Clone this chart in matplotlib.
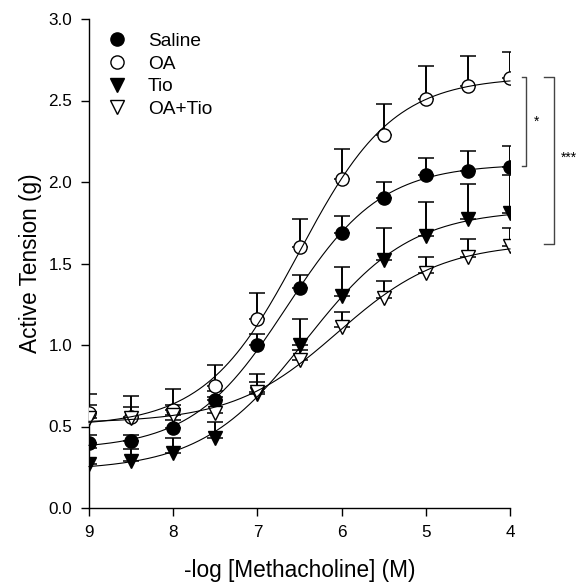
import numpy as np
import matplotlib
matplotlib.use("Agg")
import matplotlib.pyplot as plt

plt.rcParams['font.family'] = ['Liberation Sans', 'DejaVu Sans']

# -log [Methacholine] (M)
conc = [9.0, 8.5, 8.0, 7.5, 7.0, 6.5, 6.0, 5.5, 5.0, 4.5, 4.0]

saline = [0.40, 0.41, 0.49, 0.66, 1.00, 1.35, 1.69, 1.90, 2.04, 2.07, 2.09]
saline_err = [0.05, 0.04, 0.05, 0.06, 0.07, 0.08, 0.10, 0.10, 0.11, 0.12, 0.13]

oa = [0.58, 0.56, 0.60, 0.75, 1.16, 1.60, 2.02, 2.29, 2.51, 2.59, 2.64]
oa_err = [0.12, 0.13, 0.13, 0.13, 0.16, 0.17, 0.18, 0.19, 0.20, 0.18, 0.16]

tio = [0.27, 0.29, 0.34, 0.43, 0.70, 1.00, 1.30, 1.52, 1.67, 1.77, 1.81]
tio_err = [0.10, 0.07, 0.09, 0.10, 0.07, 0.16, 0.18, 0.20, 0.21, 0.22, 0.23]

oatio = [0.55, 0.55, 0.57, 0.58, 0.71, 0.91, 1.11, 1.29, 1.44, 1.54, 1.61]
oatio_err = [0.08, 0.07, 0.06, 0.10, 0.11, 0.06, 0.09, 0.10, 0.10, 0.11, 0.11]

labels = ['Saline', 'OA', 'Tio', 'OA+Tio']
x_ticks = [9, 8, 7, 6, 5, 4]
y_ticks = [0.0, 0.5, 1.0, 1.5, 2.0, 2.5, 3.0]


def fit_sigmoid(x, y):
    x = np.asarray(x)
    y = np.asarray(y)
    best = None
    for ec in np.linspace(4.0, 9.0, 201):
        for h in np.linspace(0.3, 3.0, 109):
            s = 1.0 / (1.0 + 10 ** ((x - ec) * h))
            A = np.vstack([1 - s, s]).T
            coef, *_ = np.linalg.lstsq(A, y, rcond=None)
            r = np.sum((A @ coef - y) ** 2)
            if best is None or r < best[0]:
                best = (r, ec, h, coef)
    _, ec, h, coef = best
    return lambda xx: coef[0] + (coef[1] - coef[0]) / (1.0 + 10 ** ((xx - ec) * h))


fig = plt.figure(figsize=(5.79, 5.85), dpi=100)
ax = fig.add_axes([89 / 579, 1 - 508 / 585, (510 - 89) / 579, (508 - 19) / 585])

series = [
    (saline, saline_err, 'o', 'black'),
    (oa, oa_err, 'o', 'white'),
    (tio, tio_err, 'v', 'black'),
    (oatio, oatio_err, 'v', 'white'),
]

xx = np.linspace(9, 4, 300)
handles = []
for (vals, err, mk, fc), lab in zip(series, labels):
    ax.errorbar(conc, vals, yerr=[np.zeros(len(err)), err], fmt='none',
                ecolor='black', elinewidth=1.4, capsize=6, capthick=1.1, zorder=2)
    h, = ax.plot(conc, vals, linestyle='none', marker=mk, markersize=9.5,
                 markerfacecolor=fc, markeredgecolor='black', markeredgewidth=1.0,
                 zorder=3, label=lab)
    handles.append(h)
    f = fit_sigmoid(conc, vals)
    ax.plot(xx, f(xx), color='black', linewidth=0.8, zorder=4, clip_on=False)

ax.set_xlim(9, 4)
ax.set_ylim(0, 3.0)
ax.set_xticks(x_ticks)
ax.set_xticklabels([str(t) for t in x_ticks])
ax.set_yticks(y_ticks)
ax.set_yticklabels(['%.1f' % t for t in y_ticks])
for s in ['top', 'right']:
    ax.spines[s].set_visible(False)
for s in ['left', 'bottom']:
    ax.spines[s].set_linewidth(1.0)
ax.tick_params(direction='out', length=6, width=1.0, labelsize=12.3, pad=6)
ax.set_xlabel('-log [Methacholine] (M)', fontsize=16.3, labelpad=14)
ax.set_ylabel('Active Tension (g)', fontsize=16.3, labelpad=5)

leg = ax.legend(handles=handles, loc='upper left', bbox_to_anchor=(0.012, 1.0),
                frameon=False, fontsize=13.8, handlelength=1.0, handletextpad=1.1,
                labelspacing=0.28, borderpad=0.2)

# significance brackets (figure pixel coordinates)
def px(x, y):
    return (x / 579, 1 - y / 585)

bc = '#444444'
fig.add_artist(plt.Line2D([px(522, 0)[0], px(526, 0)[0], px(526, 0)[0], px(522, 0)[0]],
                          [px(0, 77)[1], px(0, 77)[1], px(0, 166)[1], px(0, 166)[1]],
                          color=bc, linewidth=1.0))
fig.add_artist(plt.Line2D([px(544, 0)[0], px(554, 0)[0], px(554, 0)[0], px(544, 0)[0]],
                          [px(0, 77)[1], px(0, 77)[1], px(0, 244)[1], px(0, 244)[1]],
                          color=bc, linewidth=1.0))
fig.text(*px(534, 122), '*', fontsize=10, ha='left', va='center')
fig.text(*px(561, 158), '***', fontsize=10, ha='left', va='center')

fig.savefig('out.png', dpi=100)
